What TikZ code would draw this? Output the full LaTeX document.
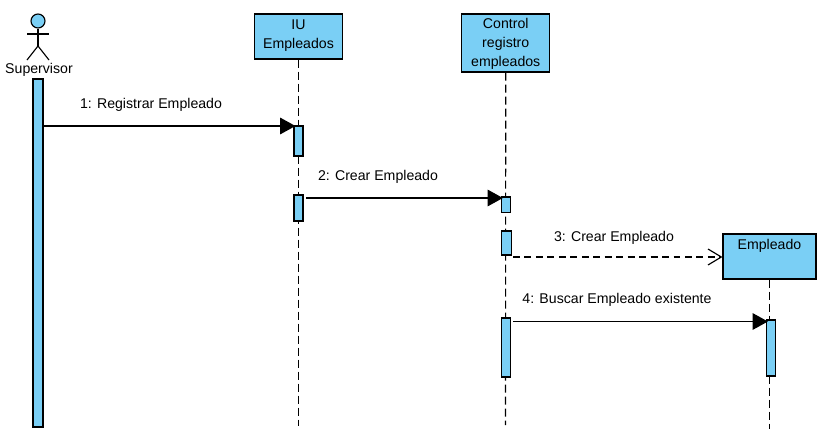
\documentclass[tikz,border=0pt]{standalone}
\usepackage{fontspec}
\setmainfont{Liberation Sans}
\usetikzlibrary{arrows.meta}
\usetikzlibrary{positioning}
\definecolor{vpblue}{RGB}{122, 207, 245}
\tikzset{txt/.style = {font = \fontsize{10.6}{14.25}\selectfont, inner sep = 0, align = center}}
\tikzset{box/.style = {txt, draw, fill = vpblue, line width = 0.85pt, minimum width = 66pt}}
\tikzset{bar/.style = {draw, fill = vpblue, line width = 0.85pt, inner sep = 0, minimum width = 6.8pt}}
\tikzset{life/.style = {line width = 0.85pt, dash pattern = on 6pt off 3pt}}
\tikzset{msg/.style = {line width = 0.85pt, -{Triangle[length = 11.5pt, width = 12.5pt]}, shorten > = -1.5pt}}
\tikzset{rmsg/.style = {line width = 0.85pt, dash pattern = on 5.2pt off 3.4pt, -{Straight Barb[length = 10pt, width = 12pt]}}}

\begin{document}
\begin{tikzpicture}[x = 0.75pt, y = -0.75pt]
    \useasboundingbox (0, 0) rectangle (829, 446);

    % actor
    \node [draw, fill = vpblue, circle, line width = 0.85pt, inner sep = 0, minimum size = 10.5pt] (head) at (38, 21) {};
    \coordinate (hip) at (38, 46);
    \coordinate (armL) at (27, 34);
    \coordinate (armR) at (49, 34);
    \coordinate (legL) at (27, 60);
    \coordinate (legR) at (49, 60);
    \draw [line width = 0.85pt] (head) -- (hip);
    \draw [line width = 0.85pt] (armL) -- (armR);
    \draw [line width = 0.85pt] (legL) -- (hip) -- (legR);
    \node [txt] (supervisor) at (39, 70) {Supervisor};

    % objects
    \node [box, minimum height = 33.75pt, text depth = 3.8pt] (iu) at (298.5, 36.5) {IU\\Empleados};
    \node [box, minimum height = 43.5pt, text depth = 0.9pt] (control) at (505.75, 43) {Control\\registro\\empleados};
    \node [box, minimum width = 69.75pt, minimum height = 33.75pt, text depth = 18.3pt] (empleado) at (769.5, 256.5) {Empleado};

    % lifelines
    \coordinate (iuEnd) at (298.5, 426);
    \coordinate (controlEnd) at (505.5, 425);
    \coordinate (empleadoEnd) at (769.5, 429);
    \draw [life] (iu.south) -- (iuEnd);
    \draw [life] (control.south) -- (controlEnd);
    \draw [life] (empleado.south -| empleadoEnd) -- (empleadoEnd);

    % activations
    \node [bar, minimum width = 7.5pt, minimum height = 261pt] (supBar) at (38, 253) {};
    \node [bar, minimum height = 22.5pt] (iuBarA) at (298.5, 141) {};
    \node [bar, minimum height = 19.5pt] (iuBarB) at (298.5, 208) {};
    \node [bar, minimum height = 11.6pt] (controlBarA) at (506, 204.75) {};
    \node [bar, minimum width = 7.5pt, minimum height = 18pt] (controlBarB) at (506.5, 243) {};
    \node [bar, minimum height = 44.25pt] (controlBarC) at (506, 347.5) {};
    \node [bar, minimum height = 42pt] (empleadoBar) at (771, 348) {};

    % messages
    \coordinate (regStart) at (44, 126);
    \coordinate (crearStart) at (306, 198);
    \coordinate (crear2Start) at (513, 257);
    \coordinate (buscarStart) at (513, 321.5);
    \draw [msg] (regStart) -- (regStart -| iuBarA.west);
    \draw [msg] (crearStart) -- (crearStart -| controlBarA.west);
    \draw [rmsg] (crear2Start) -- (crear2Start -| empleado.west);
    \draw [msg] (buscarStart) -- (buscarStart -| empleadoBar.west);

    % labels
    \node [txt] (regLabel) at (151, 104.5) {1: Registrar Empleado};
    \node [txt] (crearLabel) at (378, 176.5) {2: Crear Empleado};
    \node [txt] (crear2Label) at (614, 237.5) {3: Crear Empleado};
    \node [txt] (buscarLabel) at (617, 299.5) {4: Buscar Empleado existente};
\end{tikzpicture}
\end{document}
